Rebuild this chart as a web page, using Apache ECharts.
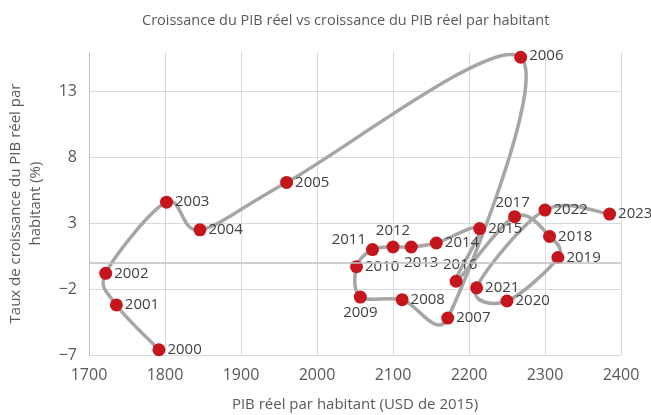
<!DOCTYPE html>
<html>
<head>
<meta charset="utf-8">
<script src="https://cdn.jsdelivr.net/npm/echarts@6/dist/echarts.min.js"></script>
<style>
  html, body { margin: 0; padding: 0; background: #fff; }
  #chart { width: 651px; height: 415px; }
</style>
</head>
<body>
<div id="chart"></div>
<script>
  // années, PIB réel par habitant (USD 2015), croissance du PIB réel par habitant (%)
  var years = ['2000','2001','2002','2003','2004','2005','2006','2007','2008','2009','2010','2011',
               '2012','2013','2014','2015','2016','2017','2018','2019','2020','2021','2022','2023'];
  var gdpPerCapita = [1792,1736,1722,1802,1846,1960,2268,2172,2112,2057,2052,2073,
                      2100,2124,2157,2214,2183,2260,2306,2317,2250,2210,2300,2385];
  var growth = [-6.6,-3.2,-0.8,4.6,2.5,6.1,15.6,-4.2,-2.8,-2.6,-0.3,1.0,
                1.2,1.2,1.5,2.6,-1.4,3.5,2.0,0.4,-2.9,-1.9,4.0,3.7];
  var xTicks = [1700,1800,1900,2000,2100,2200,2300,2400];
  var yTicks = [-7,-2,3,8,13];

  // placement des étiquettes (style)
  var labelPos = { '2009':'bottom', '2011':'left', '2012':'top', '2013':'bottom', '2016':'top', '2017':'top' };
  var labelOffset = { '2011':[2,-10], '2013':[10,0], '2016':[4,0], '2017':[-2,2], '2006':[0,-2] };

  var pts = [];
  for (var i = 0; i < years.length; i++) {
    var item = { value:[gdpPerCapita[i], growth[i]], name:years[i] };
    if (labelPos[years[i]] || labelOffset[years[i]]) {
      item.label = { position: labelPos[years[i]] || 'right', offset: labelOffset[years[i]] || [0,0] };
    }
    pts.push(item);
  }

  function dist(a, b){ return Math.sqrt((a[0]-b[0])*(a[0]-b[0]) + (a[1]-b[1])*(a[1]-b[1])); }

  // courbe lissée façon Excel (Bezier 1/6, bornée à la moitié du segment)
  function renderCurve(params, api){
    var p = [];
    for (var k = 0; k < gdpPerCapita.length; k++) p.push(api.coord([gdpPerCapita[k], growth[k]]));
    var kids = [];
    for (var j = 0; j < p.length - 1; j++) {
      var p0 = p[j > 0 ? j-1 : j], p1 = p[j], p2 = p[j+1], p3 = p[j+2 < p.length ? j+2 : j+1];
      var d12 = dist(p1, p2), d02 = dist(p0, p2), d13 = dist(p1, p3);
      var f1 = 1/6, f2 = 1/6;
      if (d02/6 > d12/2) f1 = d12/(2*d02);
      if (d13/6 > d12/2) f2 = d12/(2*d13);
      kids.push({
        type:'bezierCurve',
        shape:{ x1:p1[0], y1:p1[1], x2:p2[0], y2:p2[1],
                cpx1:p1[0] + (p2[0]-p0[0])*f1, cpy1:p1[1] + (p2[1]-p0[1])*f1,
                cpx2:p2[0] - (p3[0]-p1[0])*f2, cpy2:p2[1] - (p3[1]-p1[1])*f2 },
        style:{ stroke:'#a6a6a6', lineWidth:3.5, fill:null, lineCap:'round' }
      });
    }
    return { type:'group', children:kids };
  }

  var txt = '#595959';
  var font = 'Open Sans';
  var myChart = echarts.init(document.getElementById('chart'));
  var option = {
    animation:false,
    title:{
      text:'Croissance du PIB réel vs croissance du PIB réel par habitant',
      left:137, top:8,
      textStyle:{ fontFamily:font, fontSize:14.5, fontWeight:'normal', color:txt }
    },
    grid:{ left:89, right:30, top:52, bottom:60, containLabel:false, outerBoundsMode:'none' },
    xAxis:{
      type:'value', min:xTicks[0], max:xTicks[xTicks.length-1], interval:100,
      name:'PIB réel par habitant (USD de 2015)', nameLocation:'middle', nameGap:42,
      nameTextStyle:{ fontFamily:font, fontSize:15, color:txt },
      axisLine:{ show:false }, axisTick:{ show:false },
      axisLabel:{ fontFamily:font, fontSize:16, color:txt, margin:12,
                  formatter:function(v){ return String(v); } },
      splitLine:{ show:true, lineStyle:{ color:'#d9d9d9', width:1 } }
    },
    yAxis:{
      type:'value', min:yTicks[0], max:16, interval:5,
      name:'Taux de croissance du PIB réel par\nhabitant (%)', nameLocation:'middle', nameGap:43,
      nameTextStyle:{ fontFamily:font, fontSize:15, color:txt, lineHeight:20 },
      axisLine:{ show:true, lineStyle:{ color:'#bfbfbf' } }, axisTick:{ show:false },
      axisLabel:{ fontFamily:font, fontSize:16, color:txt, margin:12, showMaxLabel:false,
                  formatter:function(v){ return String(v).replace('-', '\u2212'); } },
      splitLine:{ show:true, showMaxLine:false, lineStyle:{ color:'#d9d9d9', width:1 } }
    },
    series:[{
      type:'custom',
      renderItem:renderCurve,
      data:[[gdpPerCapita[0], growth[0]]],
      silent:true,
      z:2,
      markLine:{
        silent:true, symbol:'none', label:{ show:false },
        lineStyle:{ color:'#bfbfbf', type:'solid', width:1.5 },
        data:[{ yAxis:0 }]
      }
    },{
      type:'scatter',
      data:pts,
      symbol:'circle', symbolSize:13,
      itemStyle:{ color:'#c4161c', opacity:1 },
      label:{
        show:true, position:'right', distance:2,
        fontFamily:font, fontSize:15, color:'#404040',
        formatter:function(p){ return p.name; }
      },
      z:3
    }]
  };
  myChart.setOption(option);
</script>
</body>
</html>
